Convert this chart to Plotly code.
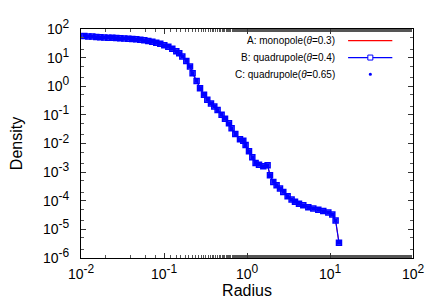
import plotly.graph_objects as go

# Data
radius = [0.01096, 0.01225, 0.01368, 0.01529, 0.01708, 0.01909, 0.02133, 0.02383,
          0.02662, 0.02975, 0.03324, 0.03714, 0.0415, 0.04637, 0.05182, 0.0579,
          0.0647, 0.0723, 0.0807, 0.0902, 0.1008, 0.1127, 0.1259, 0.1407, 0.1527,
          0.1662, 0.1857, 0.2057, 0.2211, 0.2471, 0.2716, 0.3034, 0.3324, 0.3683,
          0.4036, 0.4423, 0.4943, 0.5433, 0.6067, 0.6524, 0.7228, 0.8235, 0.9024,
          0.9616, 1.057, 1.159, 1.269, 1.395, 1.572, 1.771, 1.892, 2.075, 2.273,
          2.498, 2.736, 3.085, 3.445, 3.786, 4.231, 4.767, 5.479, 6.29, 7.23, 8.30,
          9.55, 10.66, 11.68, 12.83]
density = [57.0, 54.8, 54.3, 52.2, 51.4, 50.6, 49.8, 49.0, 48.2, 47.4, 46.7, 45.9,
           44.8, 43.8, 42.0, 40.4, 37.9, 35.8, 33.0, 30.5, 27.0, 24.0, 20.4, 16.7,
           14.2, 10.9, 7.67, 4.90, 2.86, 1.54, 0.859, 0.501, 0.336, 0.252, 0.198,
           0.147, 0.1007, 0.0731, 0.0506, 0.0339, 0.0214, 0.0140, 0.01253, 0.00887,
           0.00535, 0.00330, 0.00209, 0.00182, 0.00161, 0.00174, 0.00078, 0.000456,
           0.000350, 0.000266, 0.000204, 0.000145, 0.000110, 9.16e-5, 7.80e-5,
           6.92e-5, 5.98e-5, 5.35e-5, 4.82e-5, 4.35e-5, 3.88e-5, 3.30e-5, 2.04e-5,
           3.41e-6]

x_tick_vals = [0.01, 0.1, 1, 10, 100]
x_exponents = ["-2", "-1", "0", "1", "2"]
y_tick_vals = [1e-6, 1e-5, 1e-4, 1e-3, 1e-2, 1e-1, 1, 10, 100]
y_exponents = ["-6", "-5", "-4", "-3", "-2", "-1", "0", "1", "2"]

series_names = ["A: monopole(<i>θ</i>=0.3)",
                "B: quadrupole(<i>θ</i>=0.4)",
                "C: quadrupole(<i>θ</i>=0.65)"]

FONT = "Liberation Sans, Arial, Helvetica, sans-serif"
BLUE = "#0000ff"
RED = "#ff0000"


def power_label(e):
    return "10<sup><span style=\"font-size:12px\">" + e + "</span></sup>"


fig = go.Figure()
fig.add_trace(go.Scatter(x=radius, y=density, mode="lines",
                         line=dict(color=RED, width=1), name=series_names[0]))
fig.add_trace(go.Scatter(x=radius, y=density, mode="lines+markers",
                         line=dict(color=BLUE, width=1.2),
                         marker=dict(symbol="square-open", size=5, color=BLUE,
                                     line=dict(width=1.5, color=BLUE)),
                         name=series_names[1]))
fig.add_trace(go.Scatter(x=radius, y=density, mode="markers",
                         marker=dict(symbol="square", size=4, color=BLUE),
                         name=series_names[2]))

axis_common = dict(
    type="log", showgrid=False, zeroline=False, automargin=False,
    showline=True, linecolor="black", linewidth=1, mirror="allticks",
    ticks="inside", ticklen=5, tickcolor="#333", tickwidth=1,
    tickfont=dict(family=FONT, size=14, color="black"),
    minor=dict(ticks="inside", ticklen=3, tickcolor="#555", tickwidth=1),
)

fig.update_xaxes(**axis_common, range=[-2, 2], tickmode="array",
                 tickvals=x_tick_vals, ticktext=[power_label(e) for e in x_exponents],
                 ticklabelstandoff=3,
                 title=dict(text="Radius", font=dict(family=FONT, size=16, color="black"),
                            standoff=4))
fig.update_yaxes(**axis_common, range=[-6, 2], tickmode="array",
                 tickvals=y_tick_vals, ticktext=[power_label(e) for e in y_exponents],
                 ticklabelstandoff=8,
                 title=dict(text="Density", font=dict(family=FONT, size=16, color="black"),
                            standoff=20))

# Custom legend (text right-aligned, samples on the right)
leg_y = [0.9494, 0.8753, 0.8024]
text_x = 0.7722
line_x0, line_x1, mark_x = 0.8045, 0.9377, 0.8715
for name, yy in zip(series_names, leg_y):
    fig.add_annotation(xref="x domain", yref="y domain", x=text_x, y=yy,
                       text=name, showarrow=False, xanchor="right", yanchor="middle",
                       font=dict(family=FONT, size=10, color="black"))
fig.add_shape(type="line", xref="x domain", yref="y domain",
              x0=line_x0, x1=line_x1, y0=leg_y[0], y1=leg_y[0],
              line=dict(color=RED, width=1.2))
fig.add_shape(type="line", xref="x domain", yref="y domain",
              x0=line_x0, x1=line_x1, y0=leg_y[1], y1=leg_y[1],
              line=dict(color=BLUE, width=1.2))
fig.add_shape(type="rect", xref="x domain", yref="y domain",
              xsizemode="pixel", ysizemode="pixel", xanchor=mark_x, yanchor=leg_y[1],
              x0=-2.5, x1=2.5, y0=-2.5, y1=2.5,
              line=dict(color=BLUE, width=1), fillcolor="white")
fig.add_shape(type="circle", xref="x domain", yref="y domain",
              xsizemode="pixel", ysizemode="pixel", xanchor=mark_x, yanchor=leg_y[2],
              x0=-1.6, x1=1.6, y0=-1.6, y1=1.6,
              line=dict(color=BLUE, width=0), fillcolor=BLUE)

fig.update_layout(
    width=436, height=305,
    margin=dict(l=73, r=31, t=21, b=55),
    paper_bgcolor="white", plot_bgcolor="white",
    showlegend=False,
    font=dict(family=FONT, color="black"),
)

fig.write_html("out.html")
